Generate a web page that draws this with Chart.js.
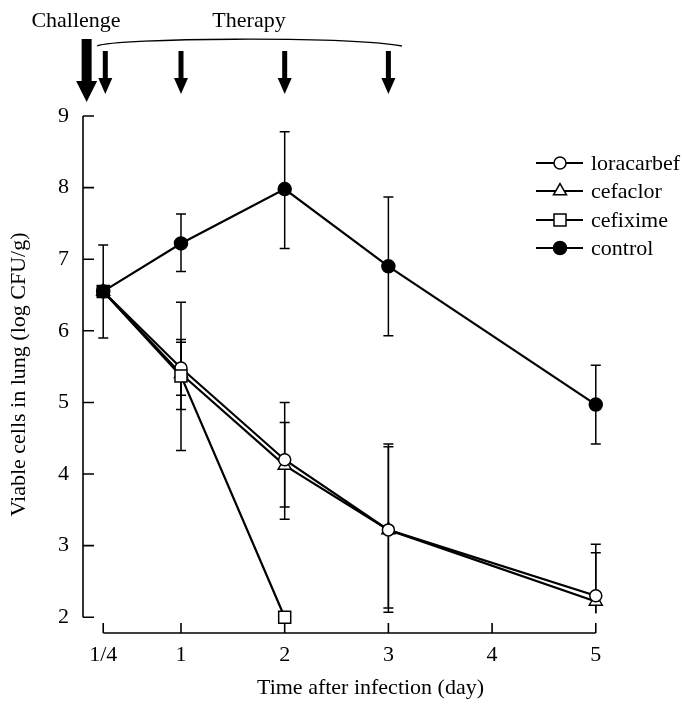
<!DOCTYPE html>
<html>
<head>
<meta charset="utf-8">
<script src="https://cdn.jsdelivr.net/npm/chart.js@4/dist/chart.umd.min.js"></script>
<style>
html, body { margin: 0; background: #fff; }
#wrap { width: 684px; height: 706px; }
</style>
</head>
<body>
<div id="wrap"><canvas id="chart"></canvas></div>
<script>
// data
const days = [0.25, 1, 2, 3, 5];
const cefiximeDays = [0.25, 1, 2];
const seriesNames = ['loracarbef', 'cefaclor', 'cefixime', 'control'];

const loracarbef = [6.55, 5.48, 4.2, 3.22, 2.3];
const loracarbefLo = [null, 5.1, 3.37, 2.07, 1.6];
const loracarbefHi = [null, 5.88, 5.0, 4.42, 3.02];

const cefaclor = [6.55, 5.4, 4.12, 3.22, 2.22];
const cefaclorLo = [null, 4.9, 3.54, 2.13, 1.5];
const cefaclorHi = [null, 5.84, 4.72, 4.38, 2.9];

const cefixime = [6.55, 5.37, 2.0];
const cefiximeLo = [null, 4.33, null];
const cefiximeHi = [null, 6.4, null];

const control = [6.55, 7.22, 7.98, 6.9, 4.97];
const controlLo = [5.9, 6.83, 7.15, 5.93, 4.42];
const controlHi = [7.2, 7.63, 8.78, 7.87, 5.52];

const xTicks = [0.25, 1, 2, 3, 4, 5];
const xTickLabels = ['1/4', '1', '2', '3', '4', '5'];
const yTicks = [2, 3, 4, 5, 6, 7, 8, 9];

const challengeDay = 0.09;
const therapyDays = [0.27, 1, 2, 3];
const bracketFrom = 0.19, bracketTo = 3.13;

const FONT = 'Liberation Serif, Times New Roman, serif';
const FS = 22;

function pts(xs, ys) {
    return xs.map((x, i) => ({ x: x, y: ys[i] }));
}

function makeSet(label, xs, ys, lo, hi, style, radius, fill, order) {
    return {
        label: label,
        data: pts(xs, ys),
        lo: lo,
        hi: hi,
        borderColor: '#000',
        borderWidth: 2.2,
        pointStyle: style,
        pointRadius: radius,
        pointHoverRadius: radius,
        pointBorderWidth: 1.5,
        pointBorderColor: '#000',
        pointBackgroundColor: fill,
        tension: 0,
        order: order
    };
}

const datasets = [
    makeSet(seriesNames[0], days, loracarbef, loracarbefLo, loracarbefHi, 'circle', 6, '#fff', 2),
    makeSet(seriesNames[1], days, cefaclor, cefaclorLo, cefaclorHi, 'triangle', 7.5, '#fff', 3),
    makeSet(seriesNames[2], cefiximeDays, cefixime, cefiximeLo, cefiximeHi, 'rect', 8.5, ['#000', '#fff', '#fff'], 1),
    makeSet(seriesNames[3], days, control, controlLo, controlHi, 'circle', 6.5, '#000', 4)
];

function drawArrow(ctx, x, top, bottom, shaft, head, headLen) {
    ctx.beginPath();
    ctx.moveTo(x - shaft / 2, top);
    ctx.lineTo(x + shaft / 2, top);
    ctx.lineTo(x + shaft / 2, bottom - headLen);
    ctx.lineTo(x + head / 2, bottom - headLen);
    ctx.lineTo(x, bottom);
    ctx.lineTo(x - head / 2, bottom - headLen);
    ctx.lineTo(x - shaft / 2, bottom - headLen);
    ctx.closePath();
    ctx.fill();
}

const decor = {
    id: 'decor',
    beforeDatasetsDraw(chart) {
        const ctx = chart.ctx;
        const xs = chart.scales.x, ys = chart.scales.y;
        const area = chart.chartArea;
        ctx.save();
        ctx.strokeStyle = '#000';
        ctx.lineWidth = 1.6;
        // y axis
        ctx.beginPath();
        ctx.moveTo(area.left, ys.getPixelForValue(2));
        ctx.lineTo(area.left, ys.getPixelForValue(9));
        yTicks.forEach(v => {
            const y = ys.getPixelForValue(v);
            ctx.moveTo(area.left, y);
            ctx.lineTo(area.left + 11, y);
        });
        // x axis
        ctx.moveTo(xs.getPixelForValue(0.25), area.bottom);
        ctx.lineTo(xs.getPixelForValue(5), area.bottom);
        xTicks.forEach(v => {
            const x = xs.getPixelForValue(v);
            ctx.moveTo(x, area.bottom);
            ctx.lineTo(x, area.bottom - 10);
        });
        ctx.stroke();

        // error bars
        ctx.lineWidth = 1.5;
        chart.data.datasets.forEach(ds => {
            ds.data.forEach((p, i) => {
                if (ds.hi[i] == null) return;
                const x = xs.getPixelForValue(p.x);
                const lo = Math.max(ds.lo[i], 2);
                const yHi = ys.getPixelForValue(ds.hi[i]);
                const yLo = ys.getPixelForValue(lo);
                ctx.beginPath();
                ctx.moveTo(x, yHi);
                ctx.lineTo(x, lo === 2 ? yLo - 4 : yLo);
                ctx.moveTo(x - 5, yHi);
                ctx.lineTo(x + 5, yHi);
                if (ds.lo[i] > 2) {
                    ctx.moveTo(x - 5, yLo);
                    ctx.lineTo(x + 5, yLo);
                }
                ctx.stroke();
            });
        });
        ctx.restore();
    },
    afterDraw(chart) {
        const ctx = chart.ctx;
        const xs = chart.scales.x;
        ctx.save();
        ctx.fillStyle = '#000';
        ctx.strokeStyle = '#000';

        // challenge / therapy annotations
        ctx.font = FS + 'px ' + FONT;
        ctx.textAlign = 'center';
        ctx.textBaseline = 'alphabetic';
        ctx.fillText('Challenge', 76, 27);
        ctx.fillText('Therapy', 249, 27);

        const bx0 = xs.getPixelForValue(bracketFrom), bx1 = xs.getPixelForValue(bracketTo);
        ctx.lineWidth = 1.3;
        ctx.beginPath();
        ctx.moveTo(bx0, 46);
        ctx.bezierCurveTo(bx0 + 20, 38, bx1 - 60, 36, bx1, 46);
        ctx.stroke();

        drawArrow(ctx, xs.getPixelForValue(challengeDay), 39, 102, 10, 21, 21);
        therapyDays.forEach(d => {
            drawArrow(ctx, xs.getPixelForValue(d), 51, 94, 5, 14, 16);
        });

        // legend
        const rows = [163, 191, 220, 248];
        ctx.font = FS + 'px ' + FONT;
        ctx.textAlign = 'left';
        ctx.textBaseline = 'middle';
        chart.data.datasets.forEach((ds, i) => {
            const y = rows[i];
            ctx.lineWidth = 2;
            ctx.beginPath();
            ctx.moveTo(536, y);
            ctx.lineTo(583, y);
            ctx.stroke();
            ctx.lineWidth = 1.5;
            ctx.fillStyle = i === 3 ? '#000' : '#fff';
            Chart.helpers.drawPoint(ctx, { pointStyle: ds.pointStyle, radius: ds.pointRadius, borderWidth: 1.5, rotation: 0 }, 560, y);
            ctx.fillStyle = '#000';
            ctx.fillText(ds.label, 591, y + 1);
        });
        ctx.restore();
    }
};

new Chart(document.getElementById('chart'), {
    type: 'line',
    data: { datasets: datasets },
    plugins: [decor],
    options: {
        responsive: true,
        maintainAspectRatio: false,
        animation: false,
        layout: { padding: { top: 116, right: 26, left: 0, bottom: 0 } },
        plugins: {
            legend: { display: false },
            tooltip: { enabled: false }
        },
        scales: {
            x: {
                type: 'linear',
                min: 0.055,
                max: 5.6,
                grid: { display: false, drawTicks: false },
                border: { display: false },
                afterBuildTicks: s => { s.ticks = xTicks.map(v => ({ value: v })); },
                afterFit: s => { s.height = 73; },
                ticks: {
                    color: '#000',
                    font: { family: FONT, size: FS },
                    padding: 9,
                    maxRotation: 0,
                    callback: (v, i) => xTickLabels[i]
                },
                title: {
                    display: true,
                    text: 'Time after infection (day)',
                    color: '#000',
                    font: { family: FONT, size: FS },
                    padding: { top: 0, bottom: 5 }
                }
            },
            y: {
                min: 1.78,
                max: 9,
                grid: { display: false, drawTicks: false },
                border: { display: false },
                afterBuildTicks: s => { s.ticks = yTicks.map(v => ({ value: v })); },
                afterFit: s => { s.width = 83; },
                ticks: {
                    color: '#000',
                    font: { family: FONT, size: FS },
                    padding: 14
                },
                title: {
                    display: true,
                    text: 'Viable cells in lung (log CFU/g)',
                    color: '#000',
                    font: { family: FONT, size: FS },
                    padding: { top: 6, bottom: 0 }
                }
            }
        }
    }
});
</script>
</body>
</html>
